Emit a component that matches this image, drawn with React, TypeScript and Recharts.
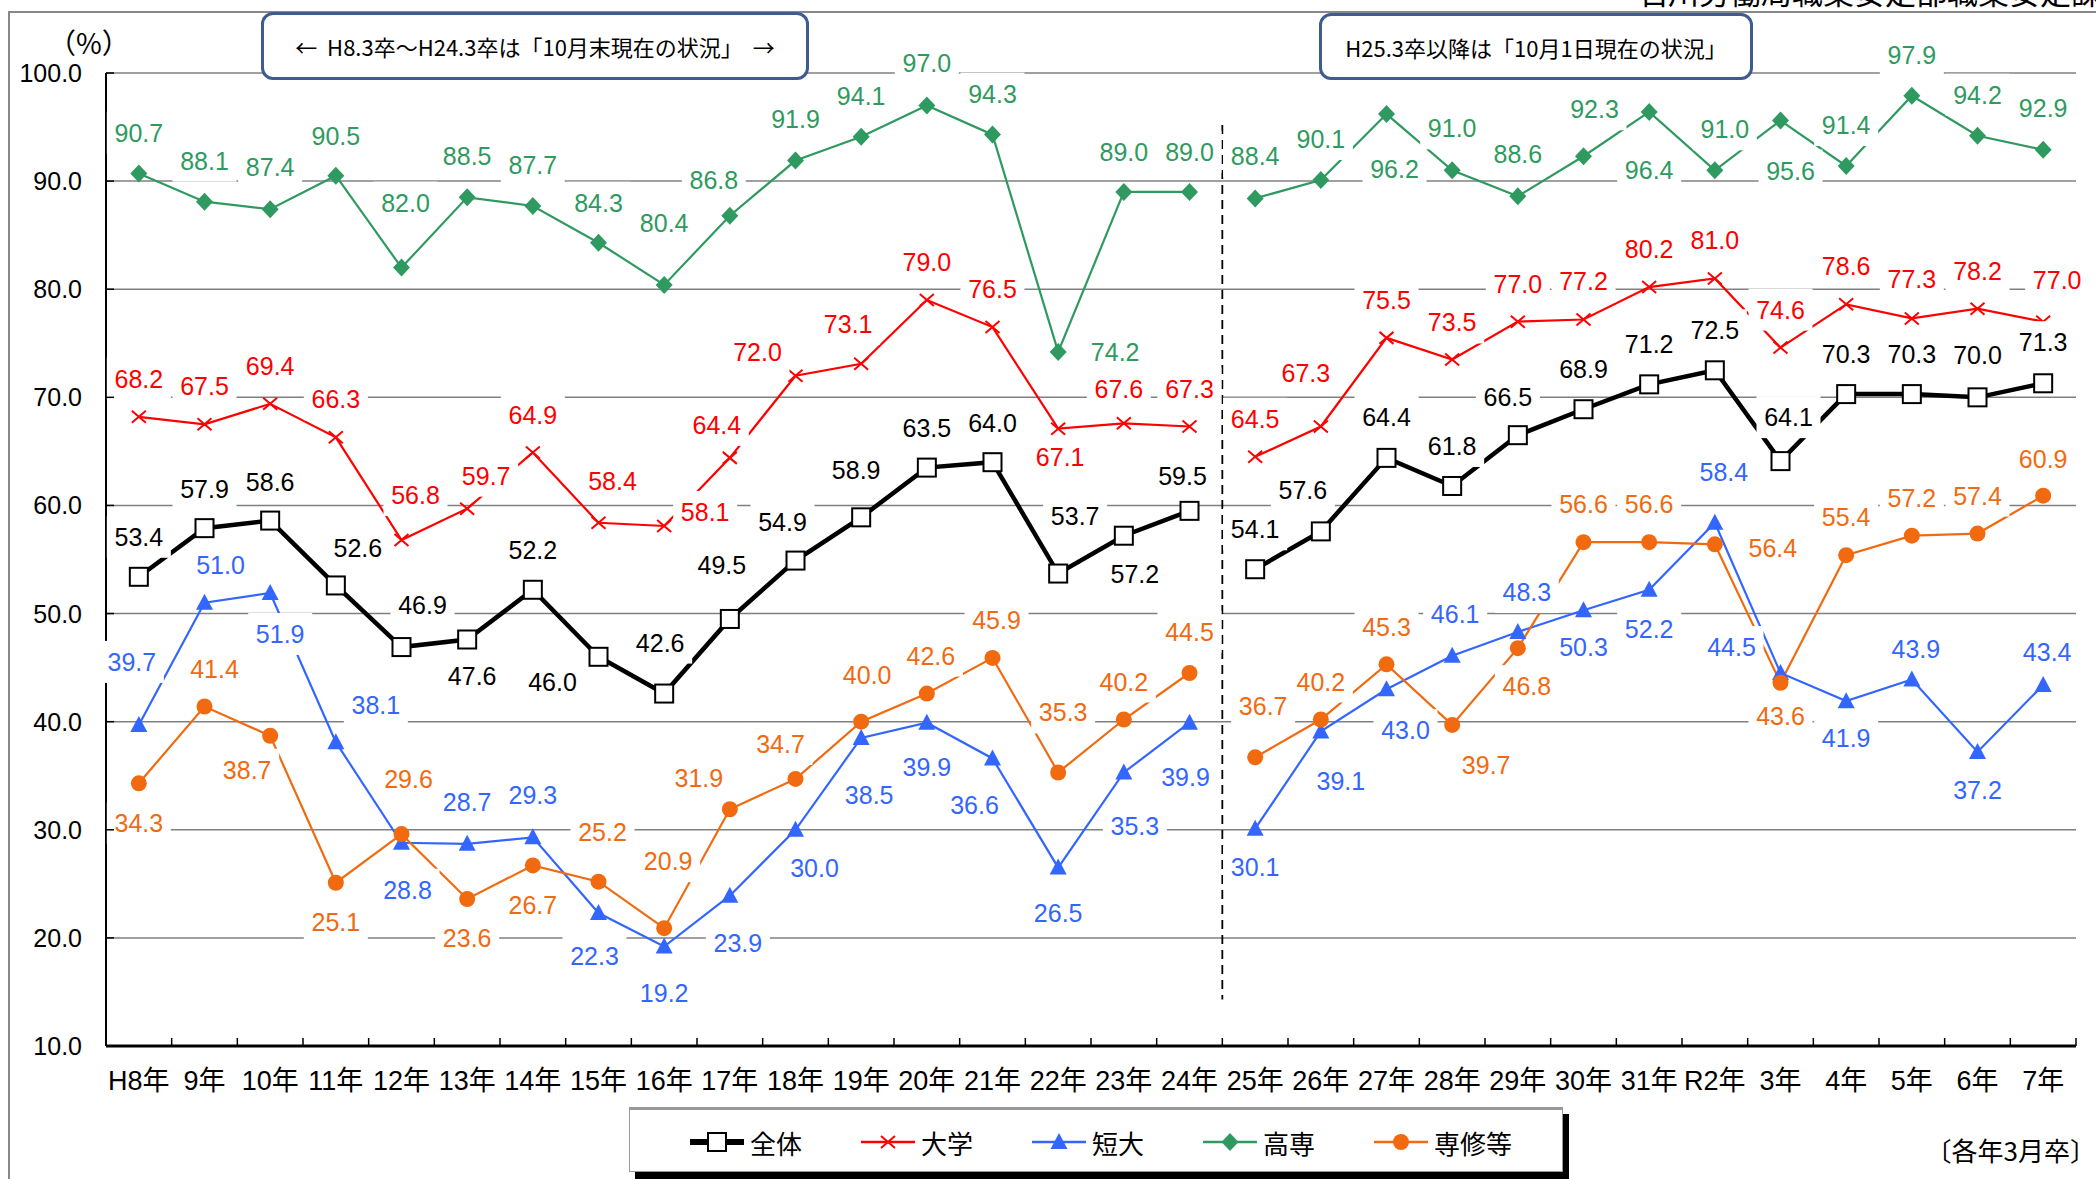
import React from "react";
import {
  LineChart,
  Line,
  XAxis,
  YAxis,
  CartesianGrid,
  ReferenceLine,
} from "recharts";

// 卒業年（各年3月卒）
const years = [
  "H8年", "9年", "10年", "11年", "12年", "13年", "14年", "15年", "16年", "17年",
  "18年", "19年", "20年", "21年", "22年", "23年", "24年", "25年", "26年", "27年",
  "28年", "29年", "30年", "31年", "R2年", "3年", "4年", "5年", "6年", "7年",
];

const zentai = [53.4, 57.9, 58.6, 52.6, 46.9, 47.6, 52.2, 46.0, 42.6, 49.5, 54.9, 58.9, 63.5, 64.0, 53.7, 57.2, 59.5, 54.1, 57.6, 64.4, 61.8, 66.5, 68.9, 71.2, 72.5, 64.1, 70.3, 70.3, 70.0, 71.3];
const daigaku = [68.2, 67.5, 69.4, 66.3, 56.8, 59.7, 64.9, 58.4, 58.1, 64.4, 72.0, 73.1, 79.0, 76.5, 67.1, 67.6, 67.3, 64.5, 67.3, 75.5, 73.5, 77.0, 77.2, 80.2, 81.0, 74.6, 78.6, 77.3, 78.2, 77.0];
const tandai = [39.7, 51.0, 51.9, 38.1, 28.8, 28.7, 29.3, 22.3, 19.2, 23.9, 30.0, 38.5, 39.9, 36.6, 26.5, 35.3, 39.9, 30.1, 39.1, 43.0, 46.1, 48.3, 50.3, 52.2, 58.4, 44.5, 41.9, 43.9, 37.2, 43.4];
const kosen = [90.7, 88.1, 87.4, 90.5, 82.0, 88.5, 87.7, 84.3, 80.4, 86.8, 91.9, 94.1, 97.0, 94.3, 74.2, 89.0, 89.0, 88.4, 90.1, 96.2, 91.0, 88.6, 92.3, 96.4, 91.0, 95.6, 91.4, 97.9, 94.2, 92.9];
const senshu = [34.3, 41.4, 38.7, 25.1, 29.6, 23.6, 26.7, 25.2, 20.9, 31.9, 34.7, 40.0, 42.6, 45.9, 35.3, 40.2, 44.5, 36.7, 40.2, 45.3, 39.7, 46.8, 56.6, 56.6, 56.4, 43.6, 55.4, 57.2, 57.4, 60.9];

const yTicks = [10, 20, 30, 40, 50, 60, 70, 80, 90, 100];

// H25.3卒から調査時点が変わるので線はそこで切る
const BREAK_AT = 17;

// label offsets from each point (px), hand placed like the excel original
type Off = [number, number];
const zentaiPos: Off[] = [[0,-40],[0,-39],[0,-39],[22,-37],[21,-42],[5,36],[0,-40],[-46,25],[-4,-51],[-8,-54],[-13,-39],[-5,-47],[0,-40],[0,-39],[17,-58],[11,38],[-7,-35],[0,-40],[-18,-41],[0,-41],[0,-40],[-10,-38],[0,-40],[0,-40],[0,-40],[8,-44],[0,-40],[0,-40],[0,-42],[0,-41]];
const daigakuPos: Off[] = [[0,-38],[0,-38],[0,-38],[0,-38],[14,-45],[19,-33],[0,-37],[14,-42],[41,-14],[-13,-33],[-38,-24],[-13,-40],[0,-38],[0,-38],[2,28],[-5,-34],[0,-38],[0,-38],[-15,-54],[0,-38],[0,-37],[0,-38],[0,-38],[0,-38],[0,-38],[0,-38],[0,-38],[0,-39],[0,-38],[14,-42]];
const tandaiPos: Off[] = [[-7,-63],[16,-38],[10,41],[40,-37],[6,47],[0,-42],[0,-42],[-4,43],[0,46],[8,47],[19,38],[8,57],[0,44],[-18,47],[0,45],[11,54],[-4,54],[0,38],[20,50],[19,41],[3,-42],[9,-40],[0,37],[0,39],[9,-51],[-49,-26],[0,37],[4,-31],[0,38],[4,-33]];
const kosenPos: Off[] = [[0,-41],[0,-41],[0,-42],[0,-40],[4,-65],[0,-41],[0,-41],[0,-40],[0,-62],[-16,-36],[0,-42],[0,-41],[0,-42],[0,-41],[57,0],[0,-40],[0,-40],[0,-42],[0,-41],[8,55],[0,-42],[0,-42],[11,-47],[0,58],[10,-41],[10,50],[0,-41],[0,-41],[0,-41],[0,-42]];
const senshuPos: Off[] = [[0,40],[10,-38],[-23,34],[0,39],[7,-55],[0,39],[0,40],[4,-50],[4,-67],[-31,-31],[-15,-35],[6,-47],[4,-38],[4,-38],[5,-60],[0,-38],[0,-41],[8,-51],[0,-38],[0,-37],[34,40],[9,38],[0,-38],[0,-38],[58,4],[0,33],[0,-38],[0,-38],[0,-38],[0,-37]];

type Kind = "square" | "cross" | "triangle" | "diamond" | "circle";

const series = [
  { key: "zentai", name: "全体", values: zentai, pos: zentaiPos, color: "#000000", width: 4.5, kind: "square" as Kind },
  { key: "daigaku", name: "大学", values: daigaku, pos: daigakuPos, color: "#ff0000", width: 2.2, kind: "cross" as Kind },
  { key: "tandai", name: "短大", values: tandai, pos: tandaiPos, color: "#3366ff", width: 2.2, kind: "triangle" as Kind },
  { key: "kosen", name: "高専", values: kosen, pos: kosenPos, color: "#2f9a60", width: 2.2, kind: "diamond" as Kind },
  { key: "senshu", name: "専修等", values: senshu, pos: senshuPos, color: "#f26a10", width: 2.2, kind: "circle" as Kind },
];

const data = years.map((year, i) => {
  const row: Record<string, number | string | null> = { pos: i + 0.5, year };
  series.forEach((s) => {
    row[s.key] = s.values[i];
    row[`${s.key}A`] = i < BREAK_AT ? s.values[i] : null;
    row[`${s.key}B`] = i >= BREAK_AT ? s.values[i] : null;
  });
  return row;
});

const xTicks = years.map((_, i) => i).concat(years.length);

const W = 2096;
const H = 1179;
const Y_AXIS_W = 90;
const X_AXIS_H = 60;
const margin = { top: 73, right: 20, bottom: 73, left: 16 };
const BAND = (W - margin.left - Y_AXIS_W - margin.right) / years.length;

const LATIN = "'Liberation Sans', Arial, 'Noto Sans CJK JP', sans-serif";
const CJK = "'Noto Sans CJK JP', 'Liberation Sans', sans-serif";

function Marker({ kind, cx, cy, color }: { kind: Kind; cx: number; cy: number; color: string }) {
  switch (kind) {
    case "square":
      return <rect x={cx - 9} y={cy - 9} width={18} height={18} fill="#fff" stroke="#000" strokeWidth={2} />;
    case "cross":
      return (
        <path
          d={`M${cx - 7},${cy - 6}L${cx + 7},${cy + 6}M${cx + 7},${cy - 6}L${cx - 7},${cy + 6}`}
          stroke={color}
          strokeWidth={2}
          fill="none"
        />
      );
    case "triangle":
      return <path d={`M${cx},${cy - 9}L${cx + 8.5},${cy + 7}L${cx - 8.5},${cy + 7}Z`} fill={color} />;
    case "diamond":
      return <path d={`M${cx},${cy - 9}L${cx + 8.5},${cy}L${cx},${cy + 9}L${cx - 8.5},${cy}Z`} fill={color} />;
    default:
      return <circle cx={cx} cy={cy} r={8} fill={color} />;
  }
}

function XTick(props: any) {
  const { x, y, payload } = props;
  const v = payload.value as number;
  return (
    <g>
      {v > 0 && <line x1={x} x2={x} y1={y} y2={y - 8} stroke="#000" strokeWidth={1.5} />}
      {v < years.length && (
        <text
          x={x + BAND / 2}
          y={y + 35}
          textAnchor="middle"
          dominantBaseline="central"
          fontSize={27}
          fontFamily={LATIN}
          fill="#000"
        >
          {years[v]}
        </text>
      )}
    </g>
  );
}

function YTick(props: any) {
  const { x, y, payload } = props;
  return (
    <g>
      <line x1={x} x2={x + 8} y1={y} y2={y} stroke="#000" strokeWidth={1.5} />
      <text x={x - 24} y={y} textAnchor="end" dominantBaseline="central" fontSize={25} fontFamily={LATIN} fill="#000">
        {Number(payload.value).toFixed(1)}
      </text>
    </g>
  );
}

function makeLabel(s: (typeof series)[number]) {
  return (p: any) => {
    const [dx, dy] = s.pos[p.index];
    const x = p.cx + dx;
    const y = p.cy + dy;
    return (
      <g key={`lb-${s.key}-${p.index}`}>
        <rect x={x - 32} y={y - 21} width={64} height={42} fill="#fff" />
        <text
          x={x}
          y={y}
          textAnchor="middle"
          dominantBaseline="central"
          fontSize={25}
          fontFamily={LATIN}
          fill={s.color}
        >
          {s.values[p.index].toFixed(1)}
        </text>
      </g>
    );
  };
}

const boxStyle: React.CSSProperties = {
  position: "absolute",
  boxSizing: "border-box",
  border: "3px solid #3d5d8d",
  borderRadius: 12,
  background: "#fff",
  display: "flex",
  alignItems: "center",
  justifyContent: "center",
  fontFamily: CJK,
  fontSize: 22,
  color: "#000",
  whiteSpace: "nowrap",
};

export default function App() {
  return (
    <div
      style={{
        position: "fixed",
        left: 0,
        top: 0,
        width: W,
        height: H,
        background: "#fff",
        overflow: "hidden",
        fontFamily: LATIN,
      }}
    >
      {/* frame */}
      <div
        style={{
          position: "absolute",
          left: 8,
          top: 11,
          width: W,
          height: H,
          borderLeft: "2px solid #888",
          borderTop: "2px solid #888",
        }}
      />
      <div
        style={{
          position: "absolute",
          left: 1637,
          top: -25,
          fontFamily: CJK,
          fontSize: 31,
          lineHeight: "31px",
          whiteSpace: "nowrap",
          color: "#000",
        }}
      >
        石川労働局職業安定部職業安定課
      </div>

      <div style={{ position: "absolute", left: 0, top: 0 }}>
        <LineChart width={W} height={H} data={data} margin={margin}>
          <CartesianGrid vertical={false} stroke="#808080" strokeWidth={1.5} />
          <XAxis
            type="number"
            dataKey="pos"
            domain={[0, years.length]}
            ticks={xTicks}
            interval={0}
            tickSize={0}
            tickMargin={0}
            tickLine={false}
            axisLine={{ stroke: "#000", strokeWidth: 3 }}
            tick={<XTick />}
            height={X_AXIS_H}
          />
          <YAxis
            type="number"
            domain={[10, 100]}
            ticks={yTicks}
            interval={0}
            tickSize={0}
            tickMargin={0}
            tickLine={false}
            axisLine={{ stroke: "#000", strokeWidth: 2 }}
            tick={<YTick />}
            width={Y_AXIS_W}
          />
          {series.flatMap((s) =>
            ["A", "B"].map((part) => (
              <Line
                key={`${s.key}${part}`}
                dataKey={`${s.key}${part}`}
                name={s.name}
                stroke={s.color}
                strokeWidth={s.width}
                connectNulls={false}
                dot={(p: any) =>
                  p.value == null ? (
                    <g key={`${s.key}${part}-${p.index}`} />
                  ) : (
                    <Marker key={`${s.key}${part}-${p.index}`} kind={s.kind} cx={p.cx} cy={p.cy} color={s.color} />
                  )
                }
                activeDot={false}
                isAnimationActive={false}
              />
            ))
          )}
          {series.map((s) => (
            <Line
              key={`${s.key}-labels`}
              dataKey={s.key}
              stroke="none"
              dot={makeLabel(s)}
              activeDot={false}
              legendType="none"
              isAnimationActive={false}
            />
          ))}
          <ReferenceLine
            segment={[
              { x: BREAK_AT, y: 95.2 },
              { x: BREAK_AT, y: 14.3 },
            ]}
            stroke="#000"
            strokeDasharray="9 6"
            strokeWidth={1.8}
          />
        </LineChart>
      </div>

      <div style={{ position: "absolute", left: 48, top: 22, fontFamily: CJK, fontSize: 28 }}>（%）</div>

      <div style={{ ...boxStyle, left: 261, top: 12, width: 548, height: 68 }}>
        ←&nbsp;&nbsp;H8.3卒～H24.3卒は「10月末現在の状況」&nbsp;&nbsp;→
      </div>
      <div style={{ ...boxStyle, left: 1319, top: 13, width: 434, height: 67 }}>
        H25.3卒以降は「10月1日現在の状況」
      </div>

      {/* legend */}
      <div
        style={{
          position: "absolute",
          left: 629,
          top: 1107,
          width: 934,
          height: 65,
          boxSizing: "border-box",
          background: "#fff",
          border: "1px solid #999",
          borderTop: "3px solid #999",
          boxShadow: "6px 7px 0 #000",
        }}
      >
        {series.map((s, i) => (
          <div
            key={s.key}
            style={{
              position: "absolute",
              left: 60 + i * 171,
              top: 6,
              height: 52,
              display: "flex",
              alignItems: "center",
            }}
          >
            <svg width={54} height={30}>
              <line x1={0} x2={54} y1={15} y2={15} stroke={s.color} strokeWidth={s.kind === "square" ? 6 : 2.5} />
              <Marker kind={s.kind} cx={27} cy={15} color={s.color} />
            </svg>
            <span style={{ marginLeft: 6, fontFamily: CJK, fontSize: 26, color: "#000" }}>{s.name}</span>
          </div>
        ))}
      </div>

      <div
        style={{
          position: "absolute",
          right: 0,
          top: 1133,
          fontFamily: CJK,
          fontSize: 26,
          lineHeight: "34px",
          whiteSpace: "nowrap",
        }}
      >
        〔各年3月卒〕
      </div>
    </div>
  );
}
